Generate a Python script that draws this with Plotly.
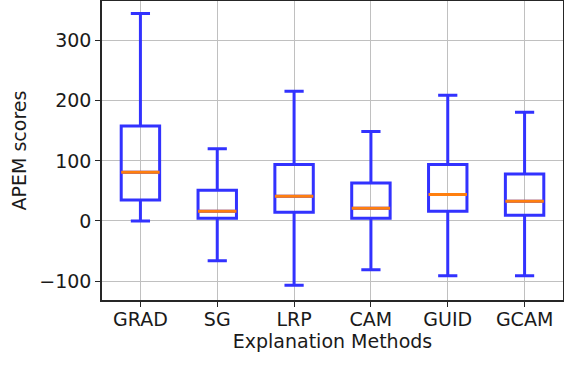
import plotly.graph_objects as go

methods = ["GRAD", "SG", "LRP", "CAM", "GUID", "GCAM"]
lower_whisker = [0, -66, -107, -81, -91, -91]
q1 = [35, 4.5, 14.5, 4.5, 16, 9.5]
median = [81, 16, 41, 21, 44, 33]
q3 = [158, 51, 94, 63, 94, 78]
upper_whisker = [345, 120, 216, 149, 209, 181]
y_ticks = [-100, 0, 100, 200, 300]

fig = go.Figure()
fig.add_trace(go.Box(
    x=methods, q1=q1, median=median, q3=q3,
    lowerfence=lower_whisker, upperfence=upper_whisker,
    line=dict(color="rgb(50,50,255)", width=3),
    fillcolor="rgba(0,0,0,0)", whiskerwidth=0.5, width=0.5,
    boxpoints=False, showlegend=False, hoverinfo="skip",
))
fig.add_trace(go.Box(
    x=methods, q1=median, median=median, q3=median,
    lowerfence=median, upperfence=median,
    line=dict(color="#ff7f0e", width=3),
    fillcolor="rgba(0,0,0,0)", whiskerwidth=0, width=0.5,
    boxpoints=False, showlegend=False, hoverinfo="skip",
))

FONT = dict(family="DejaVu Sans", size=19, color="#1a1a1a")
axis_common = dict(
    showline=True, linecolor="#262626", linewidth=1.5, mirror=True,
    showgrid=True, gridcolor="#c0c0c0", gridwidth=1,
    ticks="outside", ticklen=5, tickcolor="#262626",
    tickfont=FONT, zeroline=False, automargin=False,
)
fig.update_layout(
    width=564, height=384,
    margin=dict(l=102, r=1, t=1, b=84),
    paper_bgcolor="white", plot_bgcolor="white",
    boxmode="overlay",
    font=FONT,
    xaxis=dict(**axis_common, type="category", range=[-0.5, 5.5],
               ticklabelstandoff=-4,
               title=dict(text="Explanation Methods", standoff=2, font=FONT)),
    yaxis=dict(**axis_common, range=[-131.5, 366], tickvals=y_ticks,
               ticktext=["\u2212100", "0", "100", "200", "300"],
               title=dict(text="APEM scores", standoff=8, font=FONT)),
)
fig.write_html(
    "out.html",
    config={"displayModeBar": False},
    post_script="document.body.style.margin='0';document.body.style.overflow='hidden';",
)
